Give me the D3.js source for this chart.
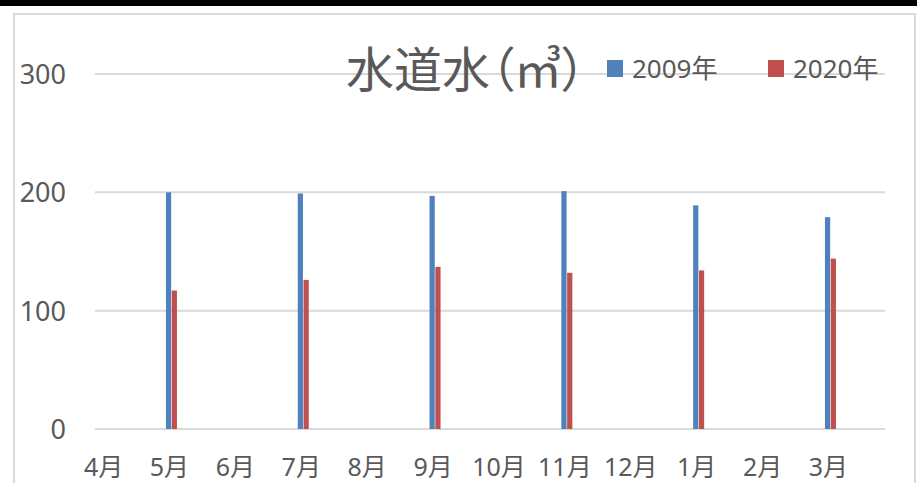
<!DOCTYPE html>
<meta charset="utf-8">
<head>
<style>
body { margin: 0; background: #fff; }
svg { display: block; }
text { fill: #595959; }
.title {
  font-family: "Noto Sans CJK JP", sans-serif;
  font-size: 48px;
  font-feature-settings: "palt";
}
.legend text {
  font-family: "Noto Sans", "Noto Sans CJK JP", sans-serif;
  font-size: 26px;
}
.x-label {
  font-family: "Noto Sans", "Noto Sans CJK JP", sans-serif;
  font-size: 25px;
}
.y-label {
  font-family: "Noto Sans", sans-serif;
  font-size: 27px;
  text-anchor: end;
}
.grid line { stroke: #d9d9d9; stroke-width: 2; }
</style>
</head>
<body>

<svg width="917" height="483"></svg>

<script src="https://d3js.org/d3.v7.min.js"></script>
<script>

var months = ["4月", "5月", "6月", "7月", "8月", "9月", "10月", "11月", "12月", "1月", "2月", "3月"],
    seriesNames = ["2009年", "2020年"],
    values2009 = [null, 200, null, 199, null, 197, null, 201, null, 189, null, 179],
    values2020 = [null, 117, null, 126, null, 137, null, 132, null, 134, null, 144],
    yTicks = [0, 100, 200, 300],
    colors = ["#4f81bd", "#c0504d"];

var svg = d3.select("svg");

// frame: black band on top, light grey chart border
svg.append("rect").attr("x", 0).attr("y", 0).attr("width", 917).attr("height", 6).attr("fill", "#000");
svg.append("path")
    .attr("d", "M14,483V14H915V483")
    .attr("fill", "none")
    .attr("stroke", "#d9d9d9")
    .attr("stroke-width", 2);

var x0 = d3.scaleBand().domain(months).range([72.6, 863.4]);
var x1 = d3.scaleBand().domain(seriesNames)
    .range([x0.bandwidth() / 2 - 5.5, x0.bandwidth() / 2 + 5.5])
    .paddingInner(0.1);
var y = d3.scaleLinear().domain([0, 300]).range([429, 74]);

svg.append("g").attr("class", "grid")
  .selectAll("line")
    .data(yTicks)
  .enter().append("line")
    .attr("x1", 95)
    .attr("x2", 885)
    .attr("y1", function(d) { return y(d); })
    .attr("y2", function(d) { return y(d); });

svg.append("g")
  .selectAll("text")
    .data(yTicks)
  .enter().append("text")
    .attr("class", "y-label")
    .attr("x", 66)
    .attr("y", function(d) { return y(d) + 10; })
    .text(function(d) { return d; });

var rows = months.map(function(m, i) {
  return { month: m, vals: [values2009[i], values2020[i]] };
});

svg.append("g")
  .selectAll("g")
    .data(rows)
  .enter().append("g")
    .attr("transform", function(d) { return "translate(" + x0(d.month) + ",0)"; })
  .selectAll("rect")
    .data(function(d) {
      return d.vals.map(function(v, j) { return { name: seriesNames[j], value: v, color: colors[j] }; })
        .filter(function(e) { return e.value != null; });
    })
  .enter().append("rect")
    .attr("x", function(d) { return x1(d.name); })
    .attr("width", x1.bandwidth())
    .attr("y", function(d) { return y(d.value); })
    .attr("height", function(d) { return y(0) - y(d.value); })
    .attr("fill", function(d) { return d.color; });

svg.append("g")
  .selectAll("text")
    .data(months)
  .enter().append("text")
    .attr("class", "x-label")
    .attr("x", function(d) { return x0(d) + x0.bandwidth() / 2 - 2; })
    .attr("y", 476)
    .attr("text-anchor", "middle")
    .text(function(d) { return d; });

svg.append("text")
    .attr("class", "title")
    .attr("x", 346)
    .attr("y", 87)
    .text("水道水（㎥）");

var legendX = [607, 768];
var legend = svg.append("g").attr("class", "legend")
  .selectAll("g")
    .data(seriesNames)
  .enter().append("g")
    .attr("transform", function(d, i) { return "translate(" + legendX[i] + ",60)"; });

legend.append("rect")
    .attr("width", 16)
    .attr("height", 17)
    .attr("fill", function(d, i) { return colors[i]; });

legend.append("text")
    .attr("x", 25)
    .attr("y", 18)
    .text(function(d) { return d; });

</script>
</body>
